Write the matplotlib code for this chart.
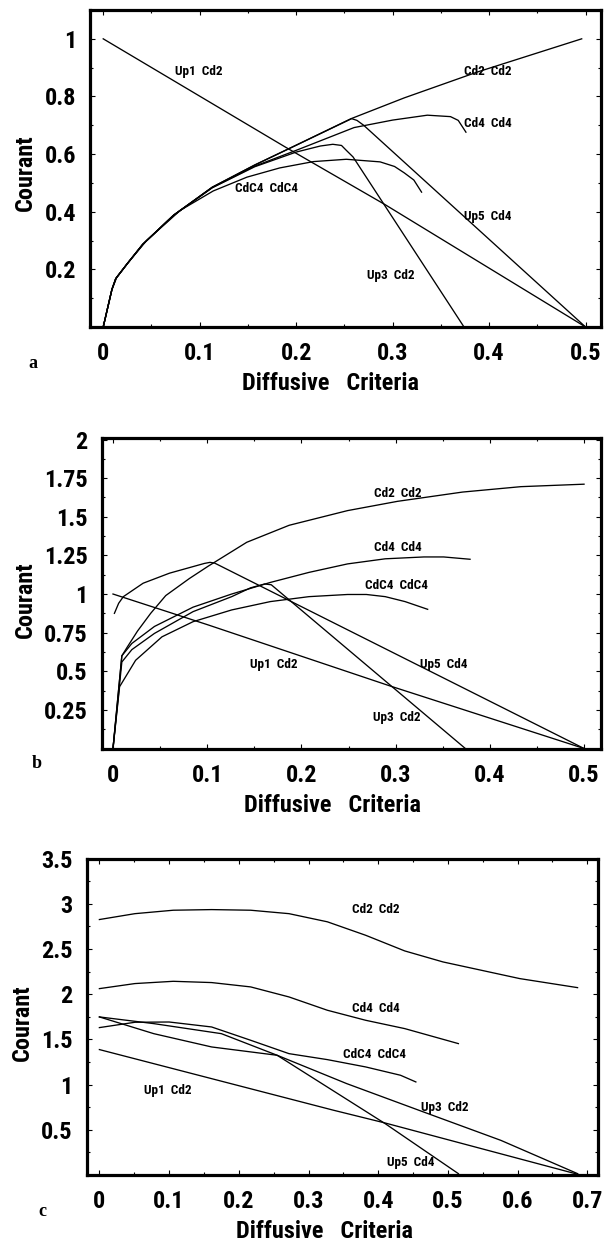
import matplotlib
matplotlib.use("Agg")
import matplotlib.pyplot as plt
from matplotlib import font_manager

W, H = 604, 1246

# condensed bold face if one is installed, else plain Liberation Sans
installed = {f.name for f in font_manager.fontManager.ttflist}
narrow = [n for n in ["Liberation Sans Narrow", "Roboto Condensed", "DejaVu Sans Condensed"]
          if n in installed]
LBL = narrow[:1] + ["Liberation Sans", "DejaVu Sans"]
SCALE = 1.0 if narrow else 0.94
SERIF = ["Liberation Serif", "DejaVu Serif"]

# ---------- panel a ----------
a_up1_x = [0.0, 0.189, 0.292, 0.5]
a_up1_y = [1.0, 0.624, 0.425, 0.0]
a_cd2_x = [0.0, 0.009, 0.013, 0.025, 0.041, 0.073, 0.113, 0.157, 0.197, 0.257, 0.312, 0.388, 0.496]
a_cd2_y = [0.0, 0.13, 0.168, 0.22, 0.287, 0.388, 0.485, 0.562, 0.626, 0.723, 0.795, 0.885, 1.0]
a_cd4_x = [0.0, 0.009, 0.013, 0.025, 0.041, 0.073, 0.113, 0.157, 0.2, 0.26, 0.3, 0.336, 0.36, 0.368, 0.376]
a_cd4_y = [0.0, 0.13, 0.168, 0.22, 0.287, 0.388, 0.484, 0.558, 0.613, 0.692, 0.718, 0.735, 0.73, 0.717, 0.676]
a_up3_x = [0.0, 0.009, 0.013, 0.025, 0.041, 0.073, 0.113, 0.157, 0.2, 0.225, 0.238, 0.247, 0.252, 0.259, 0.374]
a_up3_y = [0.0, 0.13, 0.168, 0.22, 0.287, 0.388, 0.483, 0.556, 0.607, 0.628, 0.634, 0.63, 0.613, 0.59, 0.0]
a_up5_x = [0.0, 0.009, 0.013, 0.025, 0.041, 0.073, 0.113, 0.157, 0.197, 0.2575, 0.263, 0.27, 0.5]
a_up5_y = [0.0, 0.13, 0.168, 0.22, 0.287, 0.388, 0.485, 0.562, 0.626, 0.723, 0.717, 0.70, 0.0]
a_cdc4_x = [0.0, 0.009, 0.014, 0.025, 0.045, 0.08, 0.114, 0.149, 0.183, 0.218, 0.252, 0.287, 0.302, 0.312, 0.322, 0.33]
a_cdc4_y = [0.0, 0.13, 0.172, 0.22, 0.3, 0.405, 0.472, 0.52, 0.552, 0.574, 0.582, 0.573, 0.557, 0.535, 0.51, 0.468]

# ---------- panel b ----------
b_up1_x = [0.0, 0.101, 0.294, 0.5]
b_up1_y = [1.0, 0.8, 0.405, 0.0]
b_cd2_x = [0.0, 0.0094, 0.0155, 0.026, 0.04, 0.056, 0.081, 0.101, 0.142, 0.187, 0.249, 0.302, 0.371, 0.433, 0.5]
b_cd2_y = [0.0, 0.6, 0.66, 0.76, 0.875, 0.99, 1.1, 1.18, 1.335, 1.445, 1.54, 1.6, 1.66, 1.695, 1.711]
b_cd4_x = [0.0, 0.0094, 0.02, 0.044, 0.085, 0.126, 0.167, 0.208, 0.249, 0.289, 0.33, 0.351, 0.379]
b_cd4_y = [0.0, 0.6, 0.68, 0.79, 0.915, 1.0, 1.075, 1.14, 1.195, 1.228, 1.24, 1.24, 1.225]
b_up3_x = [0.0, 0.0094, 0.02, 0.044, 0.085, 0.126, 0.146, 0.161, 0.168, 0.374]
b_up3_y = [0.0, 0.56, 0.64, 0.745, 0.886, 0.983, 1.04, 1.065, 1.06, 0.0]
b_up5_x = [0.0015, 0.006, 0.011, 0.032, 0.06, 0.097, 0.103, 0.108, 0.5]
b_up5_y = [0.875, 0.94, 0.983, 1.07, 1.135, 1.198, 1.205, 1.2, 0.0]
b_cdc4_x = [0.0, 0.007, 0.024, 0.052, 0.085, 0.126, 0.167, 0.208, 0.249, 0.269, 0.289, 0.31, 0.334]
b_cdc4_y = [0.0, 0.4, 0.571, 0.723, 0.821, 0.897, 0.951, 0.983, 0.997, 0.997, 0.983, 0.951, 0.901]

# ---------- panel c ----------
c_up1_x = [0.0, 0.336, 0.41, 0.69]
c_up1_y = [1.387, 0.716, 0.575, 0.0]
c_cd2_x = [0.0, 0.051, 0.106, 0.161, 0.217, 0.272, 0.327, 0.382, 0.438, 0.493, 0.548, 0.603, 0.686]
c_cd2_y = [2.825, 2.89, 2.928, 2.935, 2.928, 2.89, 2.8, 2.651, 2.478, 2.356, 2.264, 2.172, 2.072]
c_cd4_x = [0.0, 0.051, 0.106, 0.161, 0.217, 0.272, 0.327, 0.382, 0.438, 0.515]
c_cd4_y = [2.061, 2.117, 2.142, 2.128, 2.08, 1.969, 1.822, 1.711, 1.619, 1.453]
c_cdc4_x = [0.0, 0.051, 0.1, 0.161, 0.217, 0.272, 0.327, 0.382, 0.432, 0.454]
c_cdc4_y = [1.63, 1.689, 1.692, 1.637, 1.49, 1.342, 1.276, 1.195, 1.103, 1.029]
c_up3_x = [0.0, 0.078, 0.161, 0.255, 0.355, 0.465, 0.576, 0.686]
c_up3_y = [1.748, 1.563, 1.416, 1.324, 1.01, 0.697, 0.383, 0.015]
c_up5_x = [0.0, 0.078, 0.175, 0.255, 0.41, 0.515]
c_up5_y = [1.748, 1.674, 1.563, 1.324, 0.568, 0.015]

# curve labels: (text, x, y)
a_labels = [("Up1  Cd2", 0.099, 0.885), ("Cd2  Cd2", 0.399, 0.888), ("Cd4  Cd4", 0.399, 0.707),
            ("CdC4  CdC4", 0.169, 0.48), ("Up5  Cd4", 0.399, 0.385), ("Up3  Cd2", 0.298, 0.18)]
b_labels = [("Cd2  Cd2", 0.302, 1.652), ("Cd4  Cd4", 0.302, 1.303), ("CdC4  CdC4", 0.301, 1.053),
            ("Up1  Cd2", 0.171, 0.545), ("Up5  Cd4", 0.351, 0.545), ("Up3  Cd2", 0.301, 0.202)]
c_labels = [("Cd2  Cd2", 0.396, 2.935), ("Cd4  Cd4", 0.396, 1.84), ("CdC4  CdC4", 0.394, 1.335),
            ("Up1  Cd2", 0.098, 0.937), ("Up3  Cd2", 0.496, 0.745), ("Up5  Cd4", 0.446, 0.133)]

a_xticks = [0, 0.1, 0.2, 0.3, 0.4, 0.5]
a_xticklabels = ["0", "0.1", "0.2", "0.3", "0.4", "0.5"]
a_yticks = [0.2, 0.4, 0.6, 0.8, 1.0]
a_yticklabels = ["0.2", "0.4", "0.6", "0.8", "1"]
b_xticks = a_xticks
b_xticklabels = a_xticklabels
b_yticks = [0.25, 0.5, 0.75, 1.0, 1.25, 1.5, 1.75, 2.0]
b_yticklabels = ["0.25", "0.5", "0.75", "1", "1.25", "1.5", "1.75", "2"]
c_xticks = [0, 0.1, 0.2, 0.3, 0.4, 0.5, 0.6, 0.7]
c_xticklabels = ["0", "0.1", "0.2", "0.3", "0.4", "0.5", "0.6", "0.7"]
c_yticks = [0.5, 1.0, 1.5, 2.0, 2.5, 3.0, 3.5]
c_yticklabels = ["0.5", "1", "1.5", "2", "2.5", "3", "3.5"]


def rect(l, r, t, b):
    return [l / W, 1 - b / H, (r - l) / W, (b - t) / H]


fig = plt.figure(figsize=(W / 100, H / 100), dpi=100)

panels = [
    dict(box=(90, 601, 10, 327), xlim=(-0.0137, 0.516), ylim=(0, 1.1),
         curves=[(a_up1_x, a_up1_y), (a_cd2_x, a_cd2_y), (a_cd4_x, a_cd4_y),
                 (a_up3_x, a_up3_y), (a_up5_x, a_up5_y), (a_cdc4_x, a_cdc4_y)],
         labels=a_labels, xt=(a_xticks, a_xticklabels), yt=(a_yticks, a_yticklabels),
         minor_y=0.1, minor_x=0.05,
         letter=("a", 33, 363), xlab=(330, 383), ylab=(25, 173)),
    dict(box=(101.5, 601, 438, 748.5), xlim=(-0.0122, 0.518), ylim=(0, 2.01),
         curves=[(b_up1_x, b_up1_y), (b_cd2_x, b_cd2_y), (b_cd4_x, b_cd4_y),
                 (b_up3_x, b_up3_y), (b_up5_x, b_up5_y), (b_cdc4_x, b_cdc4_y)],
         labels=b_labels, xt=(b_xticks, b_xticklabels), yt=(b_yticks, b_yticklabels),
         minor_y=0.125, minor_x=0.05,
         letter=("b", 37, 763), xlab=(333, 805), ylab=(25, 600)),
    dict(box=(86.5, 597.5, 858.5, 1175), xlim=(-0.0185, 0.7146), ylim=(0, 3.5),
         curves=[(c_up1_x, c_up1_y), (c_cd2_x, c_cd2_y), (c_cd4_x, c_cd4_y),
                 (c_cdc4_x, c_cdc4_y), (c_up3_x, c_up3_y), (c_up5_x, c_up5_y)],
         labels=c_labels, xt=(c_xticks, c_xticklabels), yt=(c_yticks, c_yticklabels),
         minor_y=0.25, minor_x=0.05,
         letter=("c", 42, 1212), xlab=(324, 1232), ylab=(22, 1023)),
]

for p in panels:
    ax = fig.add_axes(rect(*p["box"]))
    for xs, ys in p["curves"]:
        ax.plot(xs, ys, color="black", lw=0.95, solid_joinstyle="round")
    for txt, x, y in p["labels"]:
        ax.text(x, y, txt, ha="center", va="center", fontsize=9.5 * SCALE,
                fontweight="bold", family=LBL)
    ax.set_xlim(*p["xlim"])
    ax.set_ylim(*p["ylim"])
    ax.set_xticks(p["xt"][0])
    ax.set_xticklabels(p["xt"][1])
    ax.set_yticks(p["yt"][0])
    ax.set_yticklabels(p["yt"][1])
    ax.xaxis.set_minor_locator(matplotlib.ticker.MultipleLocator(p["minor_x"]))
    ax.yaxis.set_minor_locator(matplotlib.ticker.MultipleLocator(p["minor_y"]))
    ax.tick_params(which="both", direction="in", top=True, right=True, width=0.8)
    ax.tick_params(which="major", length=3.5)
    ax.tick_params(which="minor", length=2)
    ax.tick_params(axis="y", pad=10)
    ax.tick_params(axis="x", pad=11)
    for lab in ax.get_xticklabels() + ax.get_yticklabels():
        lab.set_fontsize(17.5 * SCALE)
        lab.set_fontweight("bold")
        lab.set_family(LBL)
    for s in ax.spines.values():
        s.set_linewidth(2.3)

    l, x0, y0 = p["letter"]
    fig.text(x0 / W, 1 - y0 / H, l, ha="center", va="center", fontsize=13,
             fontweight="bold", family=SERIF)
    fig.text(p["xlab"][0] / W, 1 - p["xlab"][1] / H, "Diffusive   Criteria",
             ha="center", va="center", fontsize=17.5 * SCALE, fontweight="bold", family=LBL)
    fig.text(p["ylab"][0] / W, 1 - p["ylab"][1] / H, "Courant", rotation=90,
             ha="center", va="center", fontsize=17.5 * SCALE, fontweight="bold", family=LBL)

fig.savefig("out.png", dpi=100)
